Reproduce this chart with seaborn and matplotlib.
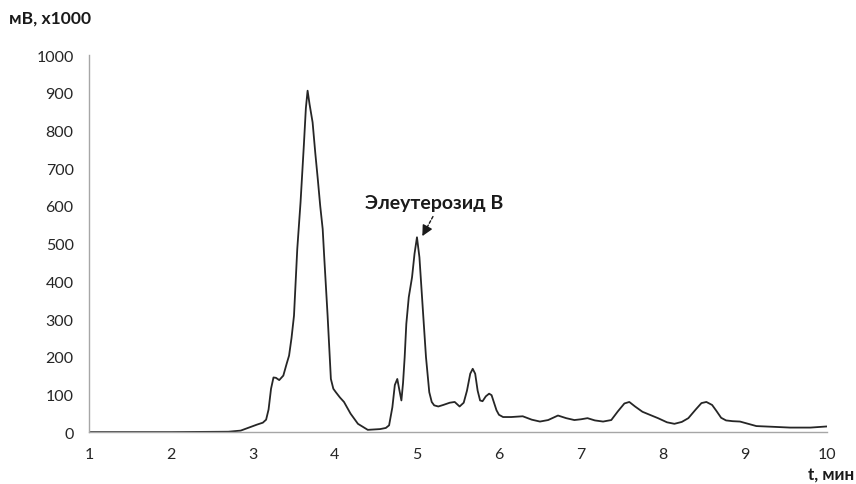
import matplotlib
matplotlib.use('Agg')
import matplotlib.pyplot as plt
import seaborn as sns

# хроматограмма, значения
t_min = [1.0, 2.0, 2.7, 2.85, 2.95, 3.05, 3.12, 3.16, 3.19, 3.22, 3.25, 3.28, 3.32, 3.37,
         3.41, 3.44, 3.47, 3.50, 3.54, 3.58, 3.62, 3.645, 3.666, 3.69, 3.727, 3.76, 3.79,
         3.82, 3.85, 3.87, 3.91, 3.95, 3.98, 4.01, 4.06, 4.11, 4.19, 4.28, 4.40, 4.55,
         4.62, 4.66, 4.70, 4.73, 4.76, 4.785, 4.81, 4.83, 4.85, 4.87, 4.90, 4.94, 4.97,
         5.00, 5.03, 5.07, 5.11, 5.15, 5.18, 5.21, 5.26, 5.32, 5.40, 5.46, 5.52, 5.57,
         5.61, 5.65, 5.68, 5.71, 5.74, 5.77, 5.80, 5.84, 5.88, 5.91, 5.94, 5.97, 6.00,
         6.05, 6.15, 6.29, 6.40, 6.50, 6.60, 6.72, 6.82, 6.92, 7.00, 7.08, 7.17, 7.27,
         7.37, 7.45, 7.53, 7.59, 7.66, 7.75, 7.85, 7.94, 8.05, 8.14, 8.23, 8.31, 8.40,
         8.47, 8.53, 8.60, 8.65, 8.71, 8.77, 8.85, 8.94, 9.04, 9.14, 9.35, 9.55, 9.80,
         10.0]
mv = [0, 0, 1, 4, 12, 20, 25, 33, 60, 115, 145, 144, 138, 150,
      181, 203, 250, 309, 486, 610, 760, 860, 906, 870, 822, 740, 672,
      600, 539, 460, 309, 141, 115, 106, 92, 80, 49, 22, 6, 8,
      11, 18, 66, 125, 141, 112, 84, 130, 199, 287, 358, 411, 473,
      517, 464, 331, 199, 106, 80, 71, 68, 72, 78, 80, 68, 78,
      110, 155, 168, 155, 110, 84, 82, 95, 102, 98, 78, 58, 46,
      40, 40, 42, 33, 28, 32, 44, 37, 32, 34, 37, 31, 28,
      32, 55, 76, 80, 68, 54, 45, 37, 26, 22, 27, 37, 60,
      77, 80, 72, 57, 38, 31, 29, 28, 22, 16, 14, 12, 12,
      15]

x_ticks = [1, 2, 3, 4, 5, 6, 7, 8, 9, 10]
y_ticks = [0, 100, 200, 300, 400, 500, 600, 700, 800, 900, 1000]

sns.set_style('white')
plt.rcParams['font.family'] = ['Lato', 'DejaVu Sans']

fig = plt.figure(figsize=(8.56, 4.85), dpi=100)
ax = fig.add_axes([0.104, 0.107, 0.862, 0.777])

sns.lineplot(x=t_min, y=mv, ax=ax, color='#262626', linewidth=1.3, sort=False)

ax.set_xlim(1, 10)
ax.set_ylim(0, 1000)
ax.set_xticks(x_ticks)
ax.set_yticks(y_ticks)
ax.tick_params(axis='both', direction='out', length=5, width=1, color='#a6a6a6',
               labelsize=11.5, labelcolor='#262626', pad=6)
ax.set_xlabel('')
ax.set_ylabel('')

sns.despine(ax=ax)
for s in ['left', 'bottom']:
    ax.spines[s].set_color('#a6a6a6')
    ax.spines[s].set_linewidth(1)

fig.text(0.01, 0.961, 'мВ, x1000', fontsize=12.6, fontweight='bold', va='center', color='#1a1a1a')
fig.text(0.998, 0.021, 't, мин', fontsize=12.3, fontweight='bold', va='center', ha='right', color='#1a1a1a')

ax.text(5.21, 610, 'Элеутерозид В', fontsize=14, fontweight='bold', color='#1a1a1a',
        ha='center', va='center')
# стрелка: пунктирный хвост + сплошной наконечник
ax.annotate('', xy=(5.10, 534), xytext=(5.195, 572),
            arrowprops=dict(arrowstyle='-', color='#1a1a1a', lw=1,
                            linestyle=(0, (2, 1.5)), shrinkA=0, shrinkB=0))
ax.annotate('', xy=(5.065, 520), xytext=(5.11, 538),
            arrowprops=dict(arrowstyle='-|>', color='#1a1a1a', lw=1,
                            mutation_scale=16, shrinkA=0, shrinkB=0))

fig.savefig('out.png', dpi=100)
